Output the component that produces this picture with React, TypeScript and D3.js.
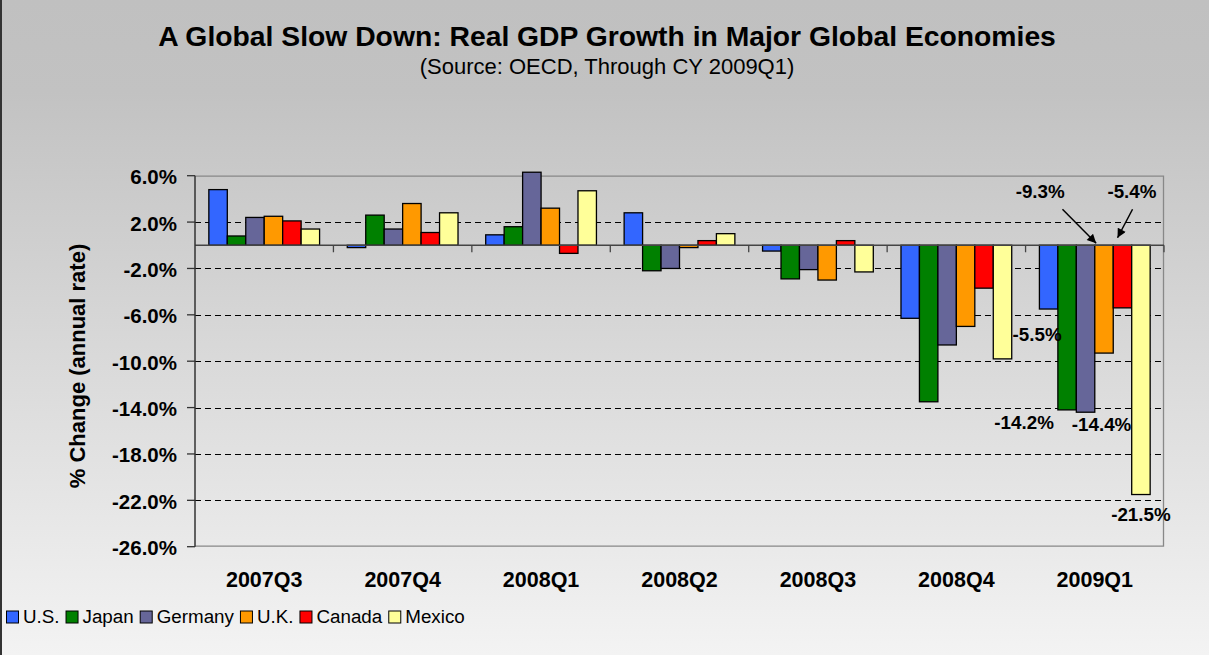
import { useEffect, useRef } from "react";
import * as d3 from "d3";

const quarters = ["2007Q3", "2007Q4", "2008Q1", "2008Q2", "2008Q3", "2008Q4", "2009Q1"];
const countries = ["U.S.", "Japan", "Germany", "U.K.", "Canada", "Mexico"];
const colors = ["#3366FF", "#008000", "#666699", "#FF9900", "#FF0000", "#FFFF99"];

const usGrowth = [4.8, -0.2, 0.9, 2.8, -0.5, -6.3, -5.5];
const japanGrowth = [0.8, 2.6, 1.6, -2.2, -2.9, -13.5, -14.2];
const germanyGrowth = [2.4, 1.4, 6.3, -2.0, -2.1, -8.6, -14.4];
const ukGrowth = [2.5, 3.6, 3.2, -0.2, -3.0, -7.0, -9.3];
const canadaGrowth = [2.1, 1.1, -0.7, 0.4, 0.4, -3.7, -5.4];
const mexicoGrowth = [1.4, 2.8, 4.7, 1.0, -2.3, -9.8, -21.5];

const yTicks = [6, 2, -2, -6, -10, -14, -18, -22, -26];

// value labels on the last quarter: series index, label offset, optional arrow
const callouts = [
  { s: 0, dx: -11.5, dy: 32, arrow: false },
  { s: 1, dx: -43, dy: 19, arrow: false },
  { s: 2, dx: 16, dy: 19, arrow: false },
  { s: 5, dx: 0, dy: 26, arrow: false },
  { s: 3, dx: -54.6, dy: -47.5, arrow: true },
  { s: 4, dx: 18.7, dy: -47.5, arrow: true },
];

const W = 1209;
const H = 655;

// excel style: plain hyphen, not the unicode minus d3.format gives
const pct = (v: number) => v.toFixed(1) + "%";

export default function App() {
  const ref = useRef<SVGSVGElement>(null);

  useEffect(() => {
    const series = [usGrowth, japanGrowth, germanyGrowth, ukGrowth, canadaGrowth, mexicoGrowth];
    const svg = d3.select(ref.current);
    svg.selectAll("*").remove();

    const defs = svg.append("defs");
    const grad = defs.append("linearGradient").attr("id", "bg").attr("x1", 0).attr("y1", 0).attr("x2", 0).attr("y2", 1);
    grad.append("stop").attr("offset", 0).attr("stop-color", "#c0c0c0");
    grad.append("stop").attr("offset", 0.14).attr("stop-color", "#c2c2c2");
    grad.append("stop").attr("offset", 1).attr("stop-color", "#f3f3f3");
    defs.append("marker")
      .attr("id", "arrow").attr("markerUnits", "userSpaceOnUse")
      .attr("viewBox", "0 0 10 10").attr("refX", 10).attr("refY", 5)
      .attr("markerWidth", 10).attr("markerHeight", 9).attr("orient", "auto")
      .append("path").attr("d", "M0,0 L10,5 L0,10 Z").attr("fill", "#000");

    svg.append("rect").attr("width", W).attr("height", H).attr("fill", "url(#bg)");
    svg.append("line").attr("x1", 1).attr("x2", 1).attr("y1", 0).attr("y2", H)
      .attr("stroke", "#333").attr("stroke-width", 2);

    const left = 195, right = 1164;
    const x = d3.scaleBand().domain(quarters).range([left, right]);
    const gap = 1.5;
    const barW = x.bandwidth() / (countries.length + gap);
    const inner = d3.scaleBand().domain(countries)
      .range([barW * gap / 2, x.bandwidth() - barW * gap / 2]).padding(0);
    const y = d3.scaleLinear().domain([-26, 6]).range([546.7, 175.7]);
    const top = y(6), bottom = y(-26);

    const font = "Arial, 'Liberation Sans', sans-serif";

    // title
    svg.append("text").attr("x", 607).attr("y", 46).attr("text-anchor", "middle")
      .attr("font-family", font).attr("font-weight", "bold").attr("font-size", 28.3)
      .text("A Global Slow Down: Real GDP Growth in Major Global Economies");
    svg.append("text").attr("x", 607).attr("y", 73.5).attr("text-anchor", "middle")
      .attr("font-family", font).attr("font-size", 22)
      .text("(Source: OECD, Through CY 2009Q1)");

    // gridlines
    svg.append("g").selectAll("line")
      .data(yTicks.filter((t) => t !== 6 && t !== -26))
      .join("line")
      .attr("x1", left).attr("x2", right)
      .attr("y1", (d) => Math.round(y(d)) + 0.5).attr("y2", (d) => Math.round(y(d)) + 0.5)
      .attr("stroke", "#000").attr("stroke-dasharray", "6,4");

    // plot border
    svg.append("path")
      .attr("d", `M${left},${top + 0.5}H${right - 0.5}V${bottom - 0.5}H${left}`)
      .attr("fill", "none").attr("stroke", "#888").attr("stroke-width", 1.3);

    // bars
    const bars = svg.append("g");
    quarters.forEach((q, qi) => {
      countries.forEach((c, si) => {
        const v = series[si][qi];
        bars.append("rect")
          .attr("x", x(q)! + inner(c)!)
          .attr("width", inner.bandwidth())
          .attr("y", y(Math.max(0, v)))
          .attr("height", Math.abs(y(v) - y(0)))
          .attr("fill", colors[si]).attr("stroke", "#000").attr("stroke-width", 1.3);
      });
    });

    // category axis at zero
    const zy = y(0);
    svg.append("line").attr("x1", left).attr("x2", right).attr("y1", zy).attr("y2", zy)
      .attr("stroke", "#444").attr("stroke-width", 1.5);
    svg.append("g").selectAll("line").data(quarters.slice(1).concat(["end"]))
      .join("line")
      .attr("x1", (d) => (d === "end" ? right : x(d)!)).attr("x2", (d) => (d === "end" ? right : x(d)!))
      .attr("y1", zy).attr("y2", zy + 7).attr("stroke", "#444").attr("stroke-width", 1.3);

    // value axis
    svg.append("line").attr("x1", left).attr("x2", left).attr("y1", top).attr("y2", bottom)
      .attr("stroke", "#333").attr("stroke-width", 1.5);
    const yt = svg.append("g");
    yt.selectAll("line").data(yTicks).join("line")
      .attr("x1", left - 8).attr("x2", left).attr("y1", (d) => y(d)).attr("y2", (d) => y(d))
      .attr("stroke", "#333").attr("stroke-width", 1.3);
    yt.selectAll("text").data(yTicks).join("text")
      .attr("x", 177).attr("y", (d) => y(d) + 1).attr("dominant-baseline", "central")
      .attr("text-anchor", "end").attr("font-family", font).attr("font-weight", "bold")
      .attr("font-size", 20.5).text((d) => pct(d));

    svg.append("text").attr("transform", "translate(85,366) rotate(-90)")
      .attr("text-anchor", "middle").attr("font-family", font).attr("font-weight", "bold")
      .attr("font-size", 22).text("% Change (annual rate)");

    svg.append("g").selectAll("text").data(quarters).join("text")
      .attr("x", (d) => x(d)! + x.bandwidth() / 2).attr("y", 586.7)
      .attr("text-anchor", "middle").attr("font-family", font).attr("font-weight", "bold")
      .attr("font-size", 21.5).text((d) => d);

    // callouts on 2009Q1
    const last = quarters[quarters.length - 1];
    const lastIdx = quarters.length - 1;
    const ann = svg.append("g");
    callouts.forEach((c) => {
      const v = series[c.s][lastIdx];
      const bx = x(last)! + inner(countries[c.s])!;
      const lx = c.arrow ? bx + c.dx : bx + inner.bandwidth() / 2 + c.dx;
      const ly = c.arrow ? zy + c.dy : y(v) + c.dy;
      ann.append("text").attr("x", lx).attr("y", ly).attr("text-anchor", "middle")
        .attr("font-family", font).attr("font-weight", "bold").attr("font-size", 18.8)
        .text(pct(v));
      if (c.arrow) {
        const tip = c.s === 3 ? [bx + 1.4, zy - 2] : [bx + 4.3, zy - 7.5];
        const tail = c.s === 3 ? [bx - 32.3, zy - 36] : [bx + 19.3, zy - 36];
        ann.append("line").attr("x1", tail[0]).attr("y1", tail[1]).attr("x2", tip[0]).attr("y2", tip[1])
          .attr("stroke", "#000").attr("stroke-width", 1.5).attr("marker-end", "url(#arrow)");
      }
    });

    // legend
    const lg = svg.append("g");
    let lx = 6;
    countries.forEach((c, i) => {
      lg.append("rect").attr("x", lx + 0.5).attr("y", 611).attr("width", 12).attr("height", 12)
        .attr("fill", colors[i]).attr("stroke", "#000").attr("stroke-width", 1);
      const t = lg.append("text").attr("x", lx + 17).attr("y", 623.3)
        .attr("font-family", font).attr("font-size", 18.8).text(c);
      const w = (t.node() as SVGTextElement).getComputedTextLength();
      lx += 17 + w + 6;
    });
  }, []);

  return (
    <div style={{ position: "absolute", left: 0, top: 0 }}>
      <svg ref={ref} width={W} height={H} style={{ display: "block" }} />
    </div>
  );
}
